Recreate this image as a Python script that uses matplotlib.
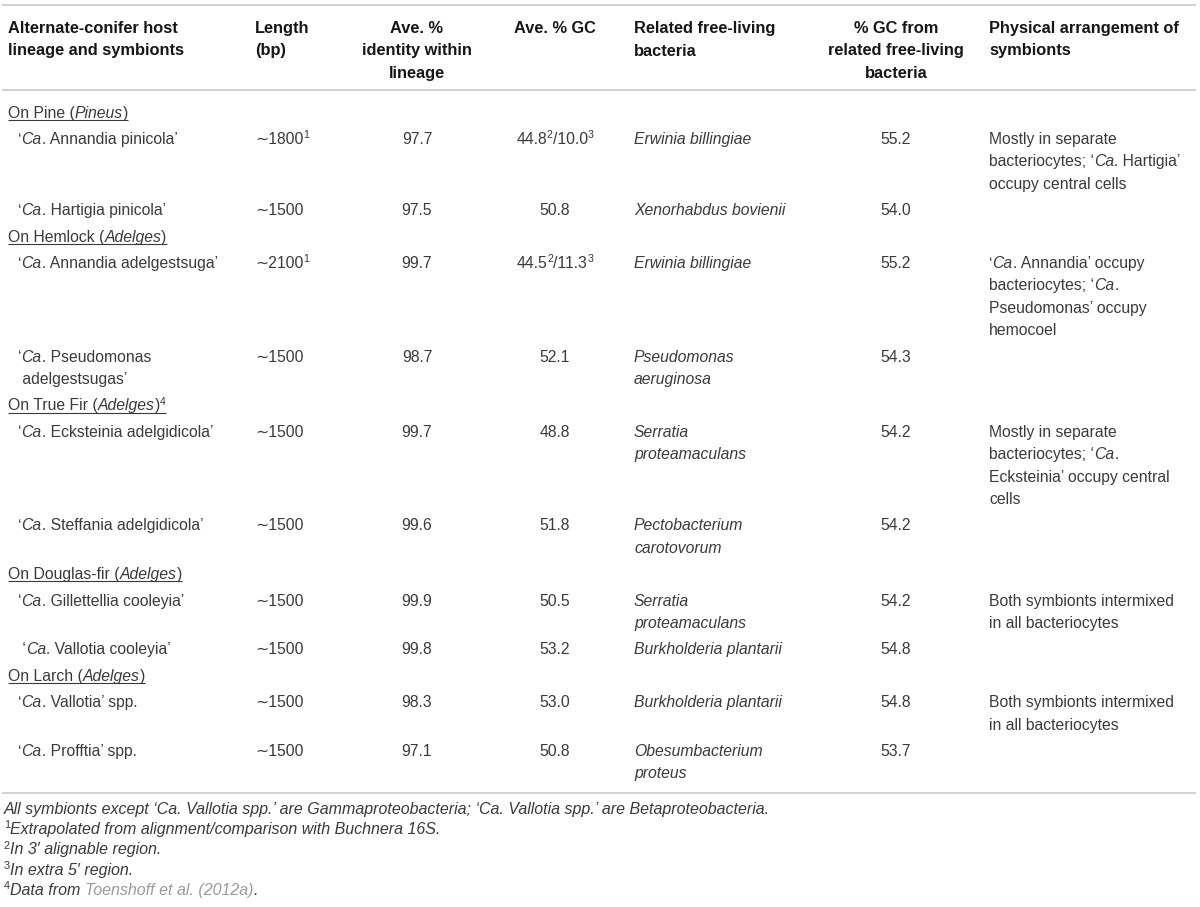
import matplotlib
matplotlib.use("Agg")
import matplotlib.pyplot as plt
from matplotlib.font_manager import FontProperties

FAMILY = ["Liberation Sans", "DejaVu Sans"]
BODY = 11.3      # pt
HEAD = 11.8      # pt
NOTE = 11.55     # pt, footnotes
TEXT = "#3a3a3a"
DARK = "#161616"
LINK = "#9a9a9a"
RULE = "#d2d2d2"

# ---- table content ------------------------------------------------------
header_lines = [
    ["Alternate-conifer host", "lineage and symbionts"],
    ["Length", "(bp)"],
    ["Ave. %", "identity within", "lineage"],
    ["Ave. % GC"],
    ["Related free-living", "bacteria"],
    ["% GC from", "related free-living", "bacteria"],
    ["Physical arrangement of", "symbionts"],
]

hosts = ["On Pine (*Pineus*)", "On Hemlock (*Adelges*)", "On True Fir (*Adelges*)^4^",
         "On Douglas-fir (*Adelges*)", "On Larch (*Adelges*)"]
host_of = [0, 0, 1, 1, 2, 2, 3, 3, 4, 4]

symbionts = ["‘*Ca*. Annandia pinicola’", "‘*Ca*. Hartigia pinicola’",
             "‘*Ca*. Annandia adelgestsuga’", "‘*Ca*. Pseudomonas\n adelgestsugas’",
             "‘*Ca*. Ecksteinia adelgidicola’", "‘*Ca*. Steffania adelgidicola’",
             "‘*Ca*. Gillettellia cooleyia’", " ‘*Ca*. Vallotia cooleyia’",
             "‘*Ca*. Vallotia’ spp.", "‘*Ca*. Profftia’ spp."]
lengths = [1800, 1500, 2100, 1500, 1500, 1500, 1500, 1500, 1500, 1500]
length_note = ["1", "", "1", "", "", "", "", "", "", ""]
identity = [97.7, 97.5, 99.7, 98.7, 99.7, 99.6, 99.9, 99.8, 98.3, 97.1]
gc_alignable = [44.8, 50.8, 44.5, 52.1, 48.8, 51.8, 50.5, 53.2, 53.0, 50.8]
gc_extra = [10.0, None, 11.3, None, None, None, None, None, None, None]
related = ["Erwinia billingiae", "Xenorhabdus bovienii", "Erwinia billingiae",
           "Pseudomonas\naeruginosa", "Serratia\nproteamaculans", "Pectobacterium\ncarotovorum",
           "Serratia\nproteamaculans", "Burkholderia plantarii", "Burkholderia plantarii",
           "Obesumbacterium\nproteus"]
gc_related = [55.2, 54.0, 55.2, 54.3, 54.2, 54.2, 54.2, 54.8, 54.8, 53.7]
arrangement = ["Mostly in separate\nbacteriocytes; ‘*Ca*. Hartigia’\noccupy central cells", "",
               "‘*Ca*. Annandia’ occupy\nbacteriocytes; ‘*Ca*.\nPseudomonas’ occupy\nhemocoel", "",
               "Mostly in separate\nbacteriocytes; ‘*Ca*.\nEcksteinia’ occupy central\ncells", "",
               "Both symbionts intermixed\nin all bacteriocytes", "",
               "Both symbionts intermixed\nin all bacteriocytes", ""]

footnotes = [
    "All symbionts except ‘Ca. Vallotia spp.’ are Gammaproteobacteria; ‘Ca. Vallotia spp.’ are Betaproteobacteria.",
    "*^1^*Extrapolated from alignment/comparison with Buchnera 16S.",
    "*^2^*In 3′ alignable region.",
    "*^3^*In extra 5′ region.",
    "*^4^*Data from #Toenshoff et al. (2012a)#.",
]

# column anchors (px) and alignment
col_x = [8, 255, 417, 555, 634, 896, 989]
col_ha = ["left", "left", "center", "center", "left", "center", "left"]
indent = 10
line_h = 22.4
row_gap = 26.4

fig = plt.figure(figsize=(12, 9.07), dpi=100)
ax = fig.add_axes([0, 0, 1, 1])
ax.set_xlim(0, 1200)
ax.set_ylim(907, 0)
ax.axis("off")
renderer = fig.canvas.get_renderer()


def props(size, italic=False, bold=False):
    return FontProperties(family=FAMILY, size=size,
                          style="italic" if italic else "normal",
                          weight="bold" if bold else "normal")


def text_width(s, fp):
    w1 = renderer.get_text_width_height_descent("|" + s + "|", fp, ismath=False)[0]
    w0 = renderer.get_text_width_height_descent("||", fp, ismath=False)[0]
    return w1 - w0


def parse(markup):
    # * toggles italic, ^ toggles superscript, # toggles link grey
    runs, buf = [], ""
    flags = {"*": False, "^": False, "#": False}
    for ch in markup:
        if ch in flags:
            if buf:
                runs.append((buf, flags["*"], flags["^"], flags["#"]))
            buf = ""
            flags[ch] = not flags[ch]
        else:
            buf += ch
    if buf:
        runs.append((buf, flags["*"], flags["^"], flags["#"]))
    return runs


def rich(x, y, markup, size=BODY, ha="left", bold=False, italic=False,
         color=TEXT, underline=False):
    px = size * 100 / 72
    pieces, total = [], 0
    for s, it, sup, grey in parse(markup):
        fp = props(size * 0.68 if sup else size, italic=(it != italic), bold=bold)
        pieces.append((s, fp, sup, grey, total))
        total += text_width(s, fp)
    x0 = x - total / 2 if ha == "center" else x
    base = y + px * 0.36
    for s, fp, sup, grey, off in pieces:
        yy = base - px * 0.36 if sup else base
        ax.text(x0 + off, yy, s, fontproperties=fp, color=LINK if grey else color,
                va="baseline", ha="left")
    if underline:
        ax.plot([x0, x0 + total], [base + 2.2, base + 2.2], color=color, lw=0.8,
                solid_capstyle="butt")


def hrule(y):
    ax.plot([2, 1196], [y, y], color=RULE, lw=1.5, solid_capstyle="butt")


# ---- header --------------------------------------------------------------
hrule(5)
for lines, x, ha in zip(header_lines, col_x, col_ha):
    for i, ln in enumerate(lines):
        rich(x, 27 + i * 22.6, ln, size=HEAD, ha=ha, bold=True, color=DARK)
hrule(90)

# ---- body ----------------------------------------------------------------
y = 112
last_host = -1
for k in range(len(symbionts)):
    if host_of[k] != last_host:
        last_host = host_of[k]
        rich(col_x[0], y, hosts[last_host], underline=True)
        y += row_gap
    length_txt = "∼{}".format(lengths[k]) + ("^{}^".format(length_note[k]) if length_note[k] else "")
    if gc_extra[k] is None:
        gc_txt = "{:.1f}".format(gc_alignable[k])
    else:
        gc_txt = "{:.1f}^2^/{:.1f}^3^".format(gc_alignable[k], gc_extra[k])
    cells = [symbionts[k], length_txt, "{:.1f}".format(identity[k]), gc_txt,
             related[k], "{:.1f}".format(gc_related[k]), arrangement[k]]
    nlines = 1
    for c, (cell, x, ha) in enumerate(zip(cells, col_x, col_ha)):
        if not cell:
            continue
        lines = cell.split("\n")
        nlines = max(nlines, len(lines))
        for i, ln in enumerate(lines):
            xx = x + indent if c == 0 else x
            rich(xx, y + i * line_h, ln, ha=ha, italic=(c == 4))
    y += (nlines - 1) * line_h + row_gap

hrule(y - row_gap + line_h - 2)

# ---- footnotes -----------------------------------------------------------
for i, note in enumerate(footnotes):
    rich(4, 808 + i * 20.3, note, size=NOTE, italic=True)

fig.savefig("out.png", dpi=100)
